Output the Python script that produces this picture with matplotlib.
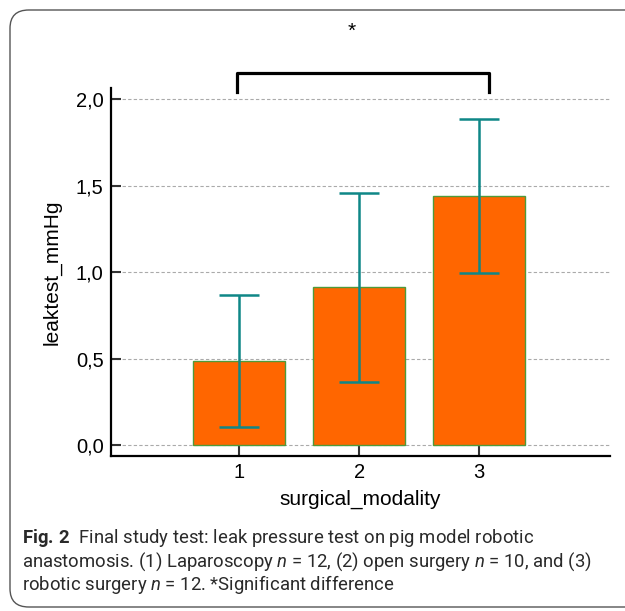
import matplotlib
matplotlib.use("Agg")
import matplotlib.pyplot as plt
from matplotlib.patches import FancyBboxPatch

# data
groups = [1, 2, 3]
means = [0.486, 0.913, 1.441]
errors = [0.382, 0.546, 0.447]
yticks = [0.0, 0.5, 1.0, 1.5, 2.0]
ytick_labels = ['0,0', '0,5', '1,0', '1,5', '2,0']
bracket_x = [0.98, 0.98, 3.08, 3.08]
bracket_y = [2.042, 2.152, 2.152, 2.042]

plt.rcParams['font.family'] = ['Liberation Sans', 'DejaVu Sans']
plt.rcParams['mathtext.fontset'] = 'custom'
plt.rcParams['mathtext.rm'] = 'Roboto'
plt.rcParams['mathtext.it'] = 'Roboto:italic'
plt.rcParams['mathtext.bf'] = 'Roboto:bold'

fig = plt.figure(figsize=(6.25, 6.11), dpi=100)
fig.set_facecolor('white')

# rounded frame around the figure panel (right side runs off the page)
frame = FancyBboxPatch((10 / 625, 4 / 611), 700 / 625, 597 / 611,
                       boxstyle='round,pad=0,rounding_size=0.03',
                       transform=fig.transFigure, fill=False,
                       edgecolor='#555555', linewidth=1.0)
fig.patches.append(frame)

ax = fig.add_axes([0.177, 0.254, 0.799, 0.602])
ax.bar(groups, means, width=0.77, color='#ff6600', edgecolor='#4f9a3a',
       linewidth=1.0, zorder=2)
ax.errorbar(groups, means, yerr=errors, fmt='none', ecolor='#0f8787',
            elinewidth=1.8, capsize=14.5, capthick=1.8, zorder=3)

ax.set_xlim(-0.07, 4.09)
ax.set_ylim(-0.06, 2.065)
ax.set_xticks(groups)
ax.set_yticks(yticks)
ax.set_yticklabels(ytick_labels)
ax.tick_params(direction='in', length=7, width=1.5, color='#333333',
               labelsize=14.5, pad=5)
ax.yaxis.grid(True, linestyle=(0, (3, 2)), color='#aaaaaa', linewidth=0.8)
ax.set_axisbelow(True)
for s in ['top', 'right']:
    ax.spines[s].set_visible(False)
for s in ['left', 'bottom']:
    ax.spines[s].set_linewidth(1.6)
ax.set_xlabel('surgical_modality', fontsize=15, labelpad=6)
ax.set_ylabel('leaktest_mmHg', fontsize=15, labelpad=10)

# significance bracket
ax.plot(bracket_x, bracket_y, color='black', linewidth=2.3,
        solid_joinstyle='round', clip_on=False)
ax.text(1.94, 2.39, '*', ha='center', va='center', fontsize=15)

cap = [r'$\mathbf{Fig.\,2}$  Final study test: leak pressure test on pig model robotic',
       r'anastomosis. (1) Laparoscopy $n$ = 12, (2) open surgery $n$ = 10, and (3)',
       r'robotic surgery $n$ = 12. *Significant difference']
for i, line in enumerate(cap):
    fig.text(22 / 625, 1 - (543 + i * 23.5) / 611, line, fontsize=13.3,
             family=['Roboto', 'DejaVu Sans'],
             color='#2a2a2a', va='baseline', ha='left')

fig.savefig('out.png', dpi=100)
